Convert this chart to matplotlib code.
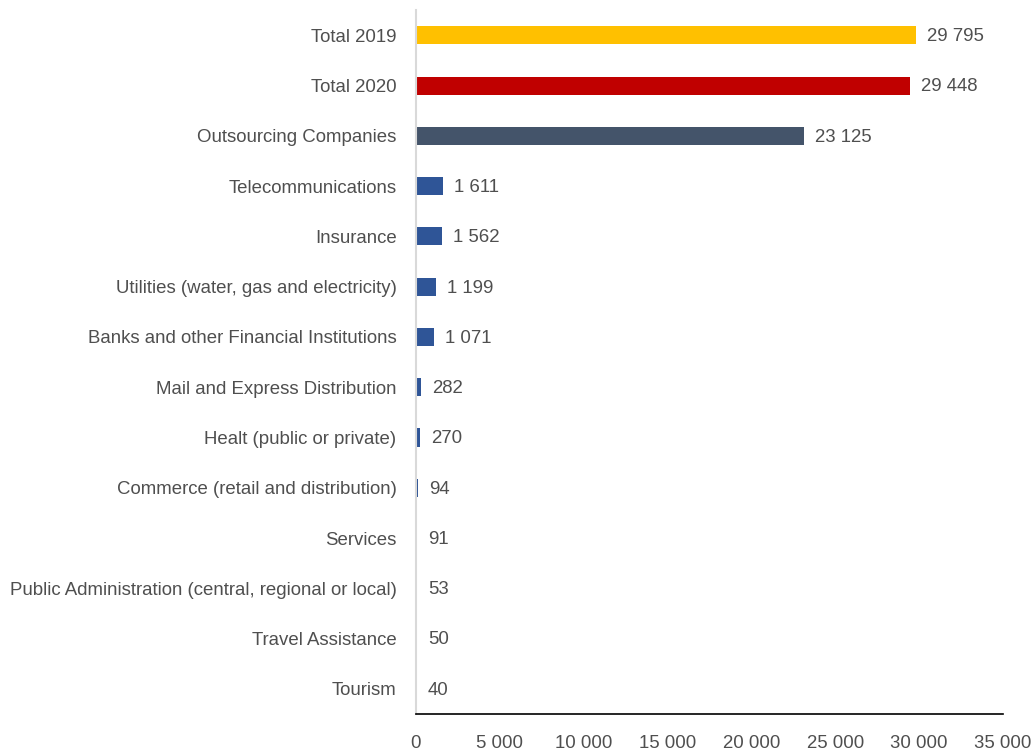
import matplotlib
matplotlib.use("Agg")
import matplotlib.pyplot as plt

categories = [
    "Total 2019",
    "Total 2020",
    "Outsourcing Companies",
    "Telecommunications",
    "Insurance",
    "Utilities (water, gas and electricity)",
    "Banks and other Financial Institutions",
    "Mail and Express Distribution",
    "Healt (public or private)",
    "Commerce (retail and distribution)",
    "Services",
    "Public Administration (central, regional or local)",
    "Travel Assistance",
    "Tourism",
]
values = [29795, 29448, 23125, 1611, 1562, 1199, 1071, 282, 270, 94, 91, 53, 50, 40]
bar_colors = ["#FFC000", "#C00000", "#44546A"] + ["#2F5597"] * 11
x_ticks = [0, 5000, 10000, 15000, 20000, 25000, 30000, 35000]


def fmt(v):
    return f"{v:,}".replace(",", " ")


plt.rcParams["font.family"] = ["Liberation Sans", "DejaVu Sans"]
text_color = "#4F4F4F"
fs = 13.4

fig = plt.figure(figsize=(10.36, 7.52), dpi=100)
ax = fig.add_axes([0.4015, 0.0505, 0.5665, 0.936])

y = list(range(len(categories)))
ax.barh(y, values, height=0.36, color=bar_colors)
ax.set_ylim(len(categories) - 0.5, -0.5)
ax.set_xlim(0, 35000)

for yi, v in zip(y, values):
    ax.annotate(fmt(v), (v, yi), xytext=(8, -1), textcoords="offset points",
                va="center", ha="left", fontsize=fs, color=text_color)

ax.set_yticks(y)
ax.set_yticklabels(categories, fontsize=fs, color=text_color)
ax.set_xticks(x_ticks)
ax.set_xticklabels([fmt(t) for t in x_ticks], fontsize=fs, color=text_color)
ax.tick_params(axis="y", length=0, pad=14)
ax.tick_params(axis="x", length=0, pad=15)

for s in ("top", "right"):
    ax.spines[s].set_visible(False)
ax.spines["left"].set_color("#D9D9D9")
ax.spines["left"].set_linewidth(1.5)
ax.spines["bottom"].set_color("#000000")
ax.spines["bottom"].set_linewidth(1.2)

fig.savefig("out.png", dpi=100)
